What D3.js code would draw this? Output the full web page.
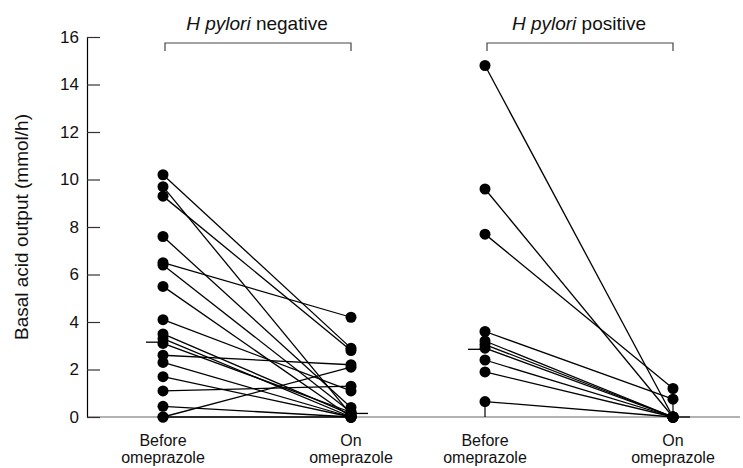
<!DOCTYPE html>
<html>
<head>
<meta charset="utf-8">
<script src="https://cdn.jsdelivr.net/npm/d3@7"></script>
<style>
    body { margin: 0; background: #fff; }
    svg { font-family: "Liberation Sans", Arial, sans-serif; }
</style>
</head>
<body>
<svg id="chart" width="743" height="468"></svg>
<script>

// Groups and conditions.
const groups = ["negative", "positive"];
const groupTitles = ["negative", "positive"];
const conditions = ["Before", "On"];

// H pylori negative: paired values (before, on).
const negBefore = [10.2, 9.7, 9.3, 7.6, 6.5, 6.4, 5.5, 4.1, 3.5, 3.3, 3.1, 2.6, 2.3, 1.7, 1.1, 0.45, 0, 0];
const negOn     = [2.9, 0.1, 2.8, 0.4, 4.2, 0.2, 0, 1.1, 0.1, 0, 0.2, 2.2, 0, 0, 1.3, 0, 2.1, 0];

// H pylori positive: paired values (before, on).
const posBefore = [14.8, 9.6, 7.7, 3.6, 3.2, 3.05, 2.9, 2.4, 1.9, 0.65];
const posOn     = [0, 0, 1.2, 0.75, 0, 0, 0, 0, 0, 0];

// Medians and range bars.
const medians = [[3.15, 0.15], [2.85, 0]];
const rangeBars = [[null, null], [[0, 0.65], [0, 1.2]]];

const yTicks = [0, 2, 4, 6, 8, 10, 12, 14, 16];

const svg = d3.select("#chart");

const y = d3.scaleLinear().domain([0, 16]).range([417, 37]);
const xGroup = d3.scaleBand().domain(groups).range([163, 807]).paddingInner(0);
const xCond = d3.scalePoint().domain(conditions).range([0, 188]);
const xPos = (g, c) => xGroup(g) + xCond(c);

// Baseline.
svg.append("line")
    .attr("x1", 87).attr("x2", 740)
    .attr("y1", y(0)).attr("y2", y(0))
    .attr("stroke", "#666").attr("stroke-width", 1.2);

// Y axis.
const yAxis = svg.append("g")
    .attr("transform", "translate(87,0)")
    .call(d3.axisLeft(y).tickValues(yTicks).tickSize(-13).tickPadding(8).tickSizeOuter(0));
yAxis.select(".domain").attr("stroke", "#000").attr("stroke-width", 1.2);
yAxis.selectAll(".tick line").attr("stroke", "#333").attr("stroke-width", 1.2);
yAxis.selectAll(".tick text").attr("font-size", 17).attr("fill", "#111")
    .attr("font-family", "Liberation Sans, Arial, sans-serif");

svg.append("text")
    .attr("transform", `translate(23,${(y(0) + y(16)) / 2}) rotate(-90)`)
    .attr("text-anchor", "middle")
    .attr("dominant-baseline", "middle")
    .attr("font-size", 19)
    .attr("fill", "#111")
    .text("Basal acid output (mmol/h)");

// Group data.
const panels = [
    { g: "negative", before: negBefore, on: negOn },
    { g: "positive", before: posBefore, on: posOn }
];

panels.forEach((p, i) => {
    const xb = xPos(p.g, "Before");
    const xo = xPos(p.g, "On");
    const pairs = p.before.map((b, j) => ({ b: b, o: p.on[j] }));
    const gp = svg.append("g");

    // Title with bracket.
    const title = gp.append("text")
        .attr("x", (xb + xo) / 2).attr("y", 30)
        .attr("text-anchor", "middle")
        .attr("font-size", 19).attr("fill", "#111");
    title.append("tspan").attr("font-style", "italic").text("H pylori");
    title.append("tspan").text(" " + groupTitles[i]);

    gp.append("path")
        .attr("d", `M${xb + 2},51V43H${xo}V51`)
        .attr("fill", "none").attr("stroke", "#444").attr("stroke-width", 1.2);

    // Range bars.
    if (rangeBars[i][0]) {
        conditions.forEach((c, k) => {
            const r = rangeBars[i][k];
            gp.append("line")
                .attr("x1", xPos(p.g, c)).attr("x2", xPos(p.g, c))
                .attr("y1", y(r[0])).attr("y2", y(r[1]))
                .attr("stroke", "#000").attr("stroke-width", 1.2);
        });
    }

    // Paired lines.
    gp.selectAll(".pair")
        .data(pairs)
        .join("line")
        .attr("class", "pair")
        .attr("x1", xb).attr("x2", xo)
        .attr("y1", d => y(d.b)).attr("y2", d => y(d.o))
        .attr("stroke", "#000").attr("stroke-width", 1.3);

    // Median markers.
    gp.append("line")
        .attr("x1", xb - 17).attr("x2", xb)
        .attr("y1", y(medians[i][0])).attr("y2", y(medians[i][0]))
        .attr("stroke", "#000").attr("stroke-width", 1.3);
    gp.append("line")
        .attr("x1", xo).attr("x2", xo + 17)
        .attr("y1", y(medians[i][1])).attr("y2", y(medians[i][1]))
        .attr("stroke", "#000").attr("stroke-width", 1.3);

    // Dots.
    gp.selectAll(".dot-b")
        .data(p.before)
        .join("circle")
        .attr("class", "dot-b")
        .attr("cx", xb).attr("cy", d => y(d)).attr("r", 5.5)
        .attr("fill", "#000");
    gp.selectAll(".dot-o")
        .data(p.on)
        .join("circle")
        .attr("class", "dot-o")
        .attr("cx", xo).attr("cy", d => y(d)).attr("r", 5.5)
        .attr("fill", "#000");

    // Category labels.
    conditions.forEach(c => {
        const t = gp.append("text")
            .attr("x", xPos(p.g, c)).attr("y", 446)
            .attr("text-anchor", "middle")
            .attr("font-size", 16).attr("fill", "#111");
        t.append("tspan").attr("x", xPos(p.g, c)).text(c);
        t.append("tspan").attr("x", xPos(p.g, c)).attr("dy", 17).text("omeprazole");
    });
});

</script>
</body>
</html>
